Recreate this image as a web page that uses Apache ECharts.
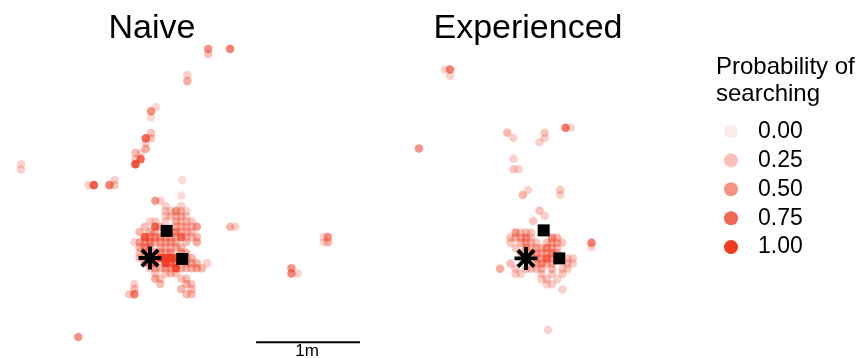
<!DOCTYPE html>
<html>
<head>
<meta charset="utf-8">
<script src="https://cdn.jsdelivr.net/npm/echarts@6/dist/echarts.min.js"></script>
<style>
  html, body { margin: 0; padding: 0; background: #fff; }
  #chart { width: 859px; height: 358px; }
</style>
</head>
<body>
<div id="chart"></div>
<script>
// positions in metres relative to the start point (asterisk), third value = probability of searching
const naiveCore = [
  [0.30, 0.60, 0.1],
  [0.05, 0.55, 0.45], [0.10, 0.55, 0.15],
  [0.15, 0.50, 0.15], [0.30, 0.50, 0.15],
  [0.15, 0.45, 0.2], [0.20, 0.45, 0.15], [0.25, 0.45, 0.5], [0.30, 0.45, 0.2], [0.35, 0.45, 0.15],
  [0.15, 0.40, 0.15], [0.20, 0.40, 0.2], [0.25, 0.40, 0.2], [0.30, 0.40, 0.25], [0.35, 0.40, 0.15],
  [0, 0.35, 0.15], [0.05, 0.35, 0.2], [0.15, 0.35, 0.15], [0.25, 0.35, 0.3], [0.30, 0.35, 0.2], [0.35, 0.35, 0.2], [0.40, 0.35, 0.2],
  [-0.05, 0.30, 0.25], [0.05, 0.30, 0.75], [0.10, 0.30, 0.3], [0.25, 0.30, 0.3], [0.30, 0.30, 0.25], [0.35, 0.30, 0.3], [0.40, 0.30, 0.2], [0.45, 0.30, 0.45],
  [-0.10, 0.25, 0.3], [0, 0.25, 0.35], [0.05, 0.25, 0.3], [0.25, 0.25, 0.55], [0.30, 0.25, 0.2], [0.35, 0.25, 0.25], [0.40, 0.25, 0.25],
  [-0.05, 0.20, 0.8], [0, 0.20, 0.45], [0.05, 0.20, 0.5], [0.10, 0.20, 0.4], [0.15, 0.20, 0.35], [0.20, 0.20, 0.3], [0.25, 0.20, 0.25], [0.30, 0.20, 0.7], [0.35, 0.20, 0.25], [0.40, 0.20, 0.2], [0.45, 0.20, 0.3],
  [-0.15, 0.15, 0.15], [-0.10, 0.15, 0.35], [-0.05, 0.15, 0.4], [0, 0.15, 0.5], [0.05, 0.15, 0.3], [0.10, 0.15, 0.3], [0.15, 0.15, 0.3], [0.20, 0.15, 0.4], [0.25, 0.15, 0.3], [0.35, 0.15, 0.25], [0.45, 0.15, 0.35],
  [-0.10, 0.10, 0.3], [-0.05, 0.10, 0.5], [0, 0.10, 0.4], [0.10, 0.10, 0.3], [0.15, 0.10, 0.25], [0.20, 0.10, 0.2], [0.25, 0.10, 0.3], [0.30, 0.10, 0.3],
  [-0.10, 0.05, 0.2], [-0.05, 0.05, 0.35], [0.05, 0.05, 0.3], [0.10, 0.05, 0.45], [0.15, 0.05, 0.3], [0.20, 0.05, 0.5], [0.30, 0.05, 0.4], [0.35, 0.05, 0.3],
  [-0.10, 0, 0.25], [0.10, 0, 0.9], [0.15, 0, 0.95], [0.20, 0, 1.0], [0.25, 0, 0.9], [0.35, 0, 0.3], [0.40, 0, 0.3],
  [-0.05, -0.05, 0.3], [0, -0.05, 0.3], [0.05, -0.05, 0.5], [0.15, -0.05, 0.95], [0.20, -0.05, 0.7], [0.25, -0.05, 0.5], [0.35, -0.05, 0.25], [0.40, -0.05, 0.3], [0.45, -0.05, 0.3], [0.55, -0.05, 0.15],
  [0, -0.10, 0.2], [0.05, -0.10, 0.3], [0.10, -0.10, 0.25], [0.15, -0.10, 0.35], [0.20, -0.10, 0.35], [0.25, -0.10, 0.9], [0.30, -0.10, 0.3], [0.35, -0.10, 0.25], [0.40, -0.10, 0.3], [0.45, -0.10, 0.35], [0.50, -0.10, 0.3],
  [0.05, -0.15, 0.2], [0.15, -0.15, 0.2], [0.20, -0.15, 0.25], [0.25, -0.15, 0.2],
  [0.05, -0.20, 0.35], [0.10, -0.20, 0.2], [0.30, -0.20, 0.2], [0.35, -0.20, 0.25],
  [-0.15, -0.25, 0.15], [0.10, -0.25, 0.25], [0.35, -0.25, 0.3], [0.40, -0.25, 0.2],
  [-0.15, -0.30, 0.25], [0.30, -0.30, 0.3], [0.40, -0.30, 0.25],
  [-0.20, -0.35, 0.2], [-0.15, -0.35, 0.6], [0.35, -0.35, 0.25], [0.40, -0.35, 0.25]
];
const naiveOuter = [
  [0.56, 2.01, 0.5], [0.56, 1.96, 0.25], [0.77, 2.01, 0.6],
  [0.36, 1.76, 0.15], [0.36, 1.70, 0.35],
  [0.06, 1.45, 0.1], [0.01, 1.41, 0.5], [0.01, 1.35, 0.1],
  [0.01, 1.20, 0.25], [-0.04, 1.15, 0.75], [0.01, 1.15, 0.2], [-0.04, 1.10, 0.15], [-0.04, 1.05, 0.35],
  [-0.14, 1.01, 0.25], [-0.09, 1.01, 0.15], [-0.14, 0.95, 0.2], [-0.09, 0.95, 0.75], [-0.14, 0.90, 0.85],
  [-1.30, 0.90, 0.15], [-1.24, 0.90, 0.15], [-1.24, 0.85, 0.15],
  [-0.59, 0.70, 0.15], [-0.54, 0.70, 0.8], [-0.39, 0.70, 0.6], [-0.34, 0.70, 0.2], [-0.34, 0.75, 0.15],
  [0.31, 0.75, 0.1],
  [0.77, 0.30, 0.3], [0.82, 0.30, 0.15],
  [-0.69, -0.76, 0.5],
  [1.36, -0.10, 0.5], [1.36, -0.15, 0.55], [1.42, -0.15, 0.15],
  [1.71, 0.20, 0.5], [1.67, 0.20, 0.15], [1.71, 0.15, 0.3], [1.67, 0.15, 0.1]
];
const expCore = [
  [-0.10, 0.25, 0.45], [-0.05, 0.25, 0.2], [0, 0.25, 0.25], [0.05, 0.25, 0.2],
  [-0.15, 0.20, 0.25], [-0.10, 0.20, 0.3], [-0.05, 0.20, 0.3], [0, 0.20, 0.5], [0.05, 0.20, 0.2], [0.25, 0.20, 0.5], [0.30, 0.20, 0.3],
  [-0.15, 0.15, 0.2], [-0.05, 0.15, 0.3], [0, 0.15, 0.35], [0.05, 0.15, 0.2], [0.10, 0.15, 0.2], [0.20, 0.15, 0.25], [0.25, 0.15, 0.3], [0.30, 0.15, 0.3], [0.35, 0.15, 0.2],
  [-0.10, 0.10, 0.2], [0, 0.10, 0.45], [0.05, 0.10, 0.2], [0.10, 0.10, 0.3], [0.15, 0.10, 0.25], [0.20, 0.10, 0.5], [0.25, 0.10, 0.3], [0.30, 0.10, 0.25],
  [-0.05, 0.05, 0.25], [0.05, 0.05, 0.3], [0.10, 0.05, 0.35], [0.15, 0.05, 0.3], [0.20, 0.05, 0.3], [0.25, 0.05, 0.5], [0.30, 0.05, 0.25],
  [0.10, 0, 0.3], [0.15, 0, 0.3], [0.20, 0, 0.65], [0.25, 0, 0.35], [0.30, 0, 0.25], [0.40, 0, 0.2], [0.45, 0, 0.2],
  [-0.15, -0.05, 0.25], [0.10, -0.05, 0.3], [0.15, -0.05, 0.45], [0.20, -0.05, 0.3], [0.25, -0.05, 0.25], [0.40, -0.05, 0.2], [0.45, -0.05, 0.15],
  [-0.25, -0.10, 0.35], [-0.10, -0.10, 0.2], [0, -0.10, 0.25], [0.05, -0.10, 0.25], [0.10, -0.10, 0.2], [0.15, -0.10, 0.3], [0.25, -0.10, 0.25], [0.35, -0.10, 0.2], [0.40, -0.10, 0.2],
  [-0.10, -0.15, 0.15], [-0.05, -0.15, 0.15], [0.15, -0.15, 0.2], [0.25, -0.15, 0.2], [0.35, -0.15, 0.2],
  [0.15, -0.20, 0.15], [0.20, -0.20, 0.2], [0.30, -0.20, 0.15],
  [0.20, -0.25, 0.15], [0.25, -0.25, 0.15],
  [0.35, -0.30, 0.15]
];
const expOuter = [
  [-0.78, 1.82, 0.15], [-0.73, 1.82, 0.6], [-0.73, 1.76, 0.15],
  [-1.03, 1.06, 0.5],
  [-0.18, 1.21, 0.3], [-0.12, 1.16, 0.15], [0.18, 1.21, 0.2], [0.18, 1.16, 0.15], [0.13, 1.12, 0.15],
  [0.38, 1.26, 0.65], [0.43, 1.26, 0.15],
  [-0.12, 0.96, 0.15], [-0.12, 0.86, 0.2], [-0.07, 0.86, 0.15],
  [0.02, 0.66, 0.15], [-0.03, 0.61, 0.3], [0.33, 0.66, 0.2], [0.33, 0.61, 0.15],
  [0.13, 0.46, 0.25], [0.18, 0.41, 0.15], [0.07, 0.36, 0.2],
  [0.63, 0.15, 0.6], [0.63, 0.11, 0.15],
  [0.21, -0.69, 0.15]
];
// black squares and the start point
const naiveSquares = [[0.16, 0.26], [0.31, -0.01]];
const expSquares = [[0.17, 0.27], [0.32, 0]];
const startPoint = [[0, 0]];
// legend levels
const probLevels = [0, 0.25, 0.5, 0.75, 1];
const probLabels = ['0.00', '0.25', '0.50', '0.75', '1.00'];
// scale bar (metres, in the Naive panel)
const scaleBarX = [1.02, 2.02];
const scaleBarY = -0.81;

const RED = [240, 59, 32];
function redAlpha(p) {
  return 'rgba(' + RED.join(',') + ',' + (0.1 + 0.9 * p).toFixed(3) + ')';
}

const ASTERISK = 'path://M-1.7 -10L1.7 -10L1.7 10L-1.7 10Z M-10 -1.7L10 -1.7L10 1.7L-10 1.7Z ' +
  'M5.87 -8.27L8.27 -5.87L-5.87 8.27L-8.27 5.87Z M-8.27 -5.87L-5.87 -8.27L8.27 5.87L5.87 8.27Z';

const PX = 104; // pixels per metre
const FONT = '"Liberation Sans", Arial, sans-serif';

function panelSeries(gi, points, squares) {
  return [
    {
      type: 'scatter', xAxisIndex: gi, yAxisIndex: gi,
      data: points, symbolSize: 8.5, silent: true,
      itemStyle: { color: function (params) { return redAlpha(params.value[2]); }, opacity: 1 },
      z: 2
    },
    {
      type: 'scatter', xAxisIndex: gi, yAxisIndex: gi,
      data: squares, symbol: 'rect', symbolSize: 12, silent: true,
      itemStyle: { color: '#000', opacity: 1 }, z: 5
    },
    {
      type: 'scatter', xAxisIndex: gi, yAxisIndex: gi,
      data: startPoint, symbol: ASTERISK, symbolSize: 23, symbolKeepAspect: true, silent: true,
      itemStyle: { color: '#000', opacity: 1 }, z: 6
    }
  ];
}

const chart = echarts.init(document.getElementById('chart'), null, { renderer: 'canvas' });

const xRanges = [[-1.25, 2.1], [-1.25, 1.9]];
const yRanges = [[-0.96, 2.48], [-0.96, 2.49]];

const series = []
  .concat(panelSeries(0, naiveCore.concat(naiveOuter), naiveSquares))
  .concat(panelSeries(1, expCore.concat(expOuter), expSquares));

series.push({
  type: 'line', xAxisIndex: 0, yAxisIndex: 0,
  data: scaleBarX.map(function (x) { return [x, scaleBarY]; }),
  symbol: 'none', silent: true,
  lineStyle: { color: '#000', width: 2 }, z: 4
});

probLevels.forEach(function (p, i) {
  series.push({
    type: 'scatter', name: probLabels[i], data: [],
    itemStyle: { color: redAlpha(p), opacity: 1 }
  });
});

chart.setOption({
  animation: false,
  backgroundColor: '#fff',
  grid: [
    { left: 20, top: 0, width: (xRanges[0][1] - xRanges[0][0]) * PX, height: (yRanges[0][1] - yRanges[0][0]) * PX },
    { left: 396, top: 0, width: (xRanges[1][1] - xRanges[1][0]) * PX, height: (yRanges[1][1] - yRanges[1][0]) * PX }
  ],
  xAxis: xRanges.map(function (r, i) {
    return { type: 'value', gridIndex: i, min: r[0], max: r[1], show: false };
  }),
  yAxis: yRanges.map(function (r, i) {
    return { type: 'value', gridIndex: i, min: r[0], max: r[1], show: false };
  }),
  legend: {
    data: probLabels,
    orient: 'vertical',
    left: 719, top: 115,
    icon: 'circle',
    itemWidth: 44, itemHeight: 14, itemGap: 5.9,
    selectedMode: false,
    itemStyle: { opacity: 1 },
    textStyle: { fontFamily: FONT, fontSize: 23, color: '#000', lineHeight: 23 }
  },
  graphic: [
    { type: 'text', x: 152, y: 29, style: { text: 'Naive', font: '34px ' + FONT, fill: '#000', align: 'center', verticalAlign: 'middle' } },
    { type: 'text', x: 528, y: 29, style: { text: 'Experienced', font: '34px ' + FONT, fill: '#000', align: 'center', verticalAlign: 'middle' } },
    { type: 'text', x: 716, y: 67, style: { text: 'Probability of', font: '24px ' + FONT, fill: '#000', verticalAlign: 'middle' } },
    { type: 'text', x: 716, y: 94, style: { text: 'searching', font: '24px ' + FONT, fill: '#000', verticalAlign: 'middle' } },
    { type: 'text', x: 307, y: 351, style: { text: '1m', font: '17px ' + FONT, fill: '#000', align: 'center', verticalAlign: 'middle' } }
  ],
  series: series
});

window.onresize = function () {
  chart.resize();
};
</script>
</body>
</html>
